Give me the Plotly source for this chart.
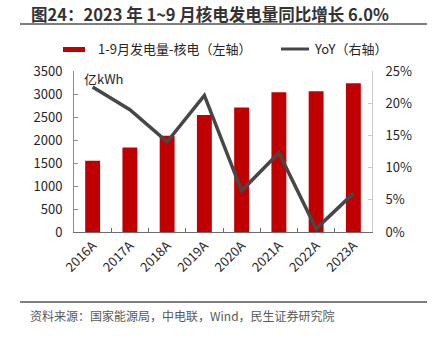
import plotly.graph_objects as go

years = ["2016A", "2017A", "2018A", "2019A", "2020A", "2021A", "2022A", "2023A"]
generation = [1547, 1836, 2090, 2545, 2704, 3038, 3060, 3233]
yoy = [22.5, 19.0, 14.0, 21.2, 6.4, 12.3, 0.5, 6.0]
left_ticks = [0, 500, 1000, 1500, 2000, 2500, 3000, 3500]
right_ticks = [0, 5, 10, 15, 20, 25]
right_labels = ["0%", "5%", "10%", "15%", "20%", "25%"]

W, H = 435, 337
ML, MR, MT, MB = 74, 63, 71, 105
PH = H - MT - MB
PW = W - ML - MR
FONT = "Noto Sans CJK SC"

def px(x):
    return (x - ML) / PW

def py(y):
    return (H - MB - y) / PH

fig = go.Figure()
fig.add_trace(go.Bar(x=years, y=generation, marker_color="#c00000",
                     marker_line_width=0, name="1-9月发电量-核电（左轴）", yaxis="y"))
fig.add_trace(go.Scatter(x=years, y=yoy, mode="lines", line=dict(color="#474747", width=3.5),
                         name="YoY（右轴）", yaxis="y2"))

fig.update_layout(
    width=W, height=H, margin=dict(l=ML, r=MR, t=MT, b=MB),
    plot_bgcolor="white", paper_bgcolor="white", showlegend=False, bargap=0.6,
    font=dict(family=FONT, size=13, color="#262626"),
    xaxis=dict(showline=True, linecolor="#6e6e6e", linewidth=1, ticks="inside",
               tickson="boundaries", ticklen=4, tickcolor="#6e6e6e", tickangle=-45,
               tickfont=dict(size=13), showgrid=False),
    yaxis=dict(range=[0, 3500], tickvals=left_ticks, showline=True, linecolor="#8c8c8c",
               ticks="inside", ticklen=4, tickcolor="#8c8c8c", showgrid=False,
               zeroline=False, ticklabelstandoff=8, tickfont=dict(size=13)),
    yaxis2=dict(range=[0, 25], tickmode="array", tickvals=right_ticks, ticktext=right_labels,
                overlaying="y", side="right", showline=True, linecolor="#c8c8c8", ticks="inside",
                ticklen=4, tickcolor="#c8c8c8", showgrid=False, zeroline=False,
                ticklabelstandoff=10, tickfont=dict(size=13)),
)

shapes = [
    dict(type="line", xref="paper", yref="paper", x0=px(20), x1=px(427), y0=py(24), y1=py(24),
         line=dict(color="#7f7f7f", width=2)),
    dict(type="line", xref="paper", yref="paper", x0=px(20), x1=px(427), y0=py(302), y1=py(302),
         line=dict(color="#7f7f7f", width=2)),
    dict(type="rect", xref="paper", yref="paper", x0=px(63), x1=px(85), y0=py(52), y1=py(47),
         fillcolor="#c00000", line=dict(width=0)),
    dict(type="line", xref="paper", yref="paper", x0=px(281), x1=px(309), y0=py(49), y1=py(49),
         line=dict(color="#474747", width=3)),
]
annotations = [
    dict(text="<b>图24：2023 年 1~9 月核电发电量同比增长 6.0%</b>", xref="paper", yref="paper",
         x=px(29), y=py(14), xanchor="left", yanchor="middle", showarrow=False,
         font=dict(size=16.5, color="#333333", family=FONT)),
    dict(text="1-9月发电量-核电（左轴）", xref="paper", yref="paper", x=px(96), y=py(49),
         xanchor="left", yanchor="middle", showarrow=False, font=dict(size=13, color="#262626")),
    dict(text="YoY（右轴）", xref="paper", yref="paper", x=px(312), y=py(49),
         xanchor="left", yanchor="middle", showarrow=False, font=dict(size=13, color="#262626")),
    dict(text="亿kWh", xref="paper", yref="paper", x=px(82), y=py(78),
         xanchor="left", yanchor="middle", showarrow=False, font=dict(size=13, color="#262626")),
    dict(text="资料来源：国家能源局，中电联，Wind，民生证券研究院", xref="paper", yref="paper",
         x=px(28), y=py(315), xanchor="left", yanchor="middle", showarrow=False,
         font=dict(size=12, color="#595959")),
]
fig.update_layout(shapes=shapes, annotations=annotations)
fig.write_html("out.html")
